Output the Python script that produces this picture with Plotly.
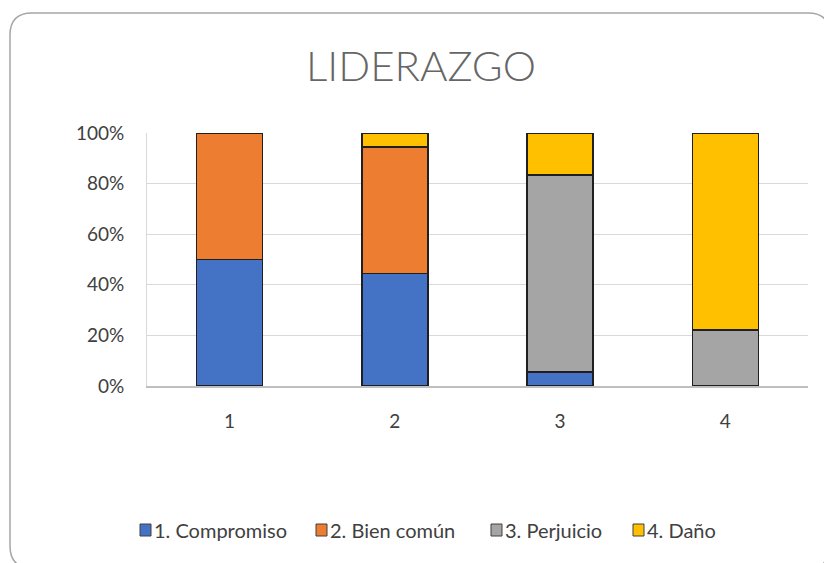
import plotly.graph_objects as go

categories = ["1", "2", "3", "4"]
series_names = ["1. Compromiso", "2. Bien común", "3. Perjuicio", "4. Daño"]
compromiso = [0.50, 0.444, 0.056, 0.0]
bien_comun = [0.50, 0.50, 0.0, 0.0]
perjuicio = [0.0, 0.0, 0.778, 0.222]
dano = [0.0, 0.056, 0.167, 0.778]
colors = ["#4472C4", "#ED7D31", "#A5A5A5", "#FFC000"]

# page has an 8px body margin, so the figure is shrunk by that much
OFF = 8
W, H = 832 - OFF, 563 - OFF
# plot area in page pixels
PL, PR, PT, PB = 147, 808, 133, 386

fig = go.Figure()
for name, vals, clr in zip(series_names, [compromiso, bien_comun, perjuicio, dano], colors):
    fig.add_bar(x=categories, y=vals, name=name, width=0.4,
                marker=dict(color=clr, line=dict(color="#1f1f1f", width=1.5)))


# page pixel -> paper coords
def px_x(p):
    return (p - PL) / (PR - PL)


def px_y(p):
    return (PB - p) / (PB - PT)


# rounded frame around the chart
x0, x1, y0, y1, r = 10, 830, 13, 568, 22
path = (f"M {px_x(x0 + r)},{px_y(y0)} L {px_x(x1 - r)},{px_y(y0)} "
        f"Q {px_x(x1)},{px_y(y0)} {px_x(x1)},{px_y(y0 + r)} "
        f"L {px_x(x1)},{px_y(y1 - r)} Q {px_x(x1)},{px_y(y1)} {px_x(x1 - r)},{px_y(y1)} "
        f"L {px_x(x0 + r)},{px_y(y1)} Q {px_x(x0)},{px_y(y1)} {px_x(x0)},{px_y(y1 - r)} "
        f"L {px_x(x0)},{px_y(y0 + r)} Q {px_x(x0)},{px_y(y0)} {px_x(x0 + r)},{px_y(y0)} Z")
fig.add_shape(type="path", path=path, xref="paper", yref="paper",
              line=dict(color="#a6a6a6", width=1.5), layer="below")

# legend drawn by hand (Excel style: small square right next to the text)
legend_left = [140, 316, 491, 633]
legend_y = 530
for name, clr, lx in zip(series_names, colors, legend_left):
    fig.add_shape(type="rect", xref="paper", yref="paper",
                  x0=px_x(lx), x1=px_x(lx + 11), y0=px_y(legend_y - 6), y1=px_y(legend_y + 6),
                  fillcolor=clr, line=dict(color="#404040", width=1))
    fig.add_annotation(text=name, xref="paper", yref="paper", x=px_x(lx + 12), y=px_y(legend_y),
                       xanchor="left", yanchor="middle", showarrow=False,
                       font=dict(family="Lato", size=20, color="#404040"))

fig.update_layout(
    width=W, height=H,
    barmode="stack",
    margin=dict(l=PL - OFF, r=W - (PR - OFF), t=PT - OFF, b=H - (PB - OFF)),
    paper_bgcolor="white", plot_bgcolor="white",
    font=dict(family="Lato", size=19, color="#404040"),
    title=dict(text="LIDERAZGO", x=(421 - OFF) / W, xanchor="center",
               y=1 - (66 - OFF) / H, yanchor="middle",
               font=dict(family="Lato", size=42, color="#666666", weight=300)),
    showlegend=False,
)
fig.update_yaxes(range=[0, 1], tickvals=[0, 0.2, 0.4, 0.6, 0.8, 1.0], tickformat=".0%",
                 showgrid=True, gridcolor="#d9d9d9", gridwidth=1,
                 showline=True, linecolor="#d9d9d9", linewidth=1,
                 zeroline=False, ticks="", ticklabelstandoff=18)
fig.update_xaxes(showgrid=False, showline=True, linecolor="#bfbfbf", linewidth=1.5,
                 ticks="", ticklabelstandoff=17)

fig.write_html("out.html")
